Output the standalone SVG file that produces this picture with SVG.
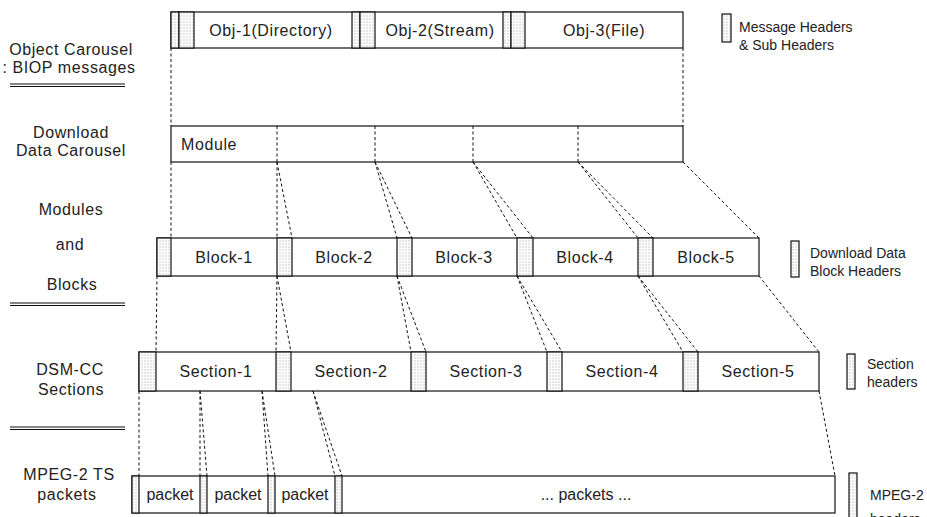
<svg xmlns="http://www.w3.org/2000/svg" width="927" height="517" viewBox="0 0 927 517">
<defs>
<pattern id="dots" width="3" height="3" patternUnits="userSpaceOnUse"><rect width="3" height="3" fill="#fff"/><rect x="0.5" y="0.5" width="1" height="1" fill="#999"/></pattern>
</defs>
<style>
.box{fill:#fff;stroke:#111;stroke-width:1.2}
.hdr{fill:url(#dots);stroke:#111;stroke-width:1.2}
.div{stroke:#111;stroke-width:1;stroke-dasharray:3 2.5}
.c{stroke:#111;stroke-width:1;stroke-dasharray:3 2.5;fill:none}
.dl{stroke:#111;stroke-width:1.1}
text{font-family:"Liberation Sans",Arial,sans-serif;font-size:16px;fill:#222;letter-spacing:0.6px}
.m{text-anchor:middle}
.lg{font-size:14px;letter-spacing:0}
</style>

<g id="labels">
<text class="m" x="71" y="55">Object Carousel</text>
<text class="m" x="69" y="73">: BIOP messages</text>
<line class="dl" x1="10" y1="84" x2="125" y2="84"/><line class="dl" x1="10" y1="86.5" x2="125" y2="86.5"/>
<text class="m" x="71" y="138">Download</text>
<text class="m" x="71" y="156">Data Carousel</text>
<text class="m" x="71" y="215">Modules</text>
<text class="m" x="70" y="250">and</text>
<text class="m" x="72" y="290">Blocks</text>
<line class="dl" x1="10" y1="303" x2="125" y2="303"/><line class="dl" x1="10" y1="305.5" x2="125" y2="305.5"/>
<text class="m" x="70" y="375">DSM-CC</text>
<text class="m" x="71" y="395">Sections</text>
<line class="dl" x1="10" y1="427" x2="125" y2="427"/><line class="dl" x1="10" y1="429.5" x2="125" y2="429.5"/>
<text class="m" x="69" y="480">MPEG-2 TS</text>
<text class="m" x="67" y="500">packets</text>
</g>

<g id="connectors">
<line class="c" x1="171" y1="48" x2="171" y2="126"/>
<line class="c" x1="683" y1="48" x2="683" y2="126"/>
<line class="c" x1="171" y1="162" x2="171" y2="238"/>
<line class="c" x1="277" y1="162" x2="277" y2="238"/>
<line class="c" x1="277" y1="162" x2="292" y2="238"/>
<line class="c" x1="375" y1="162" x2="397" y2="238"/>
<line class="c" x1="375" y1="162" x2="412" y2="238"/>
<line class="c" x1="473" y1="162" x2="517" y2="238"/>
<line class="c" x1="473" y1="162" x2="533" y2="238"/>
<line class="c" x1="578" y1="162" x2="638" y2="238"/>
<line class="c" x1="578" y1="162" x2="653" y2="238"/>
<line class="c" x1="683" y1="162" x2="759" y2="238"/>
<line class="c" x1="157" y1="276" x2="156" y2="352"/>
<line class="c" x1="277" y1="276" x2="276" y2="352"/>
<line class="c" x1="277" y1="276" x2="291" y2="352"/>
<line class="c" x1="397" y1="276" x2="411" y2="352"/>
<line class="c" x1="397" y1="276" x2="426" y2="352"/>
<line class="c" x1="517" y1="276" x2="547" y2="352"/>
<line class="c" x1="517" y1="276" x2="562" y2="352"/>
<line class="c" x1="638" y1="276" x2="683" y2="352"/>
<line class="c" x1="638" y1="276" x2="698" y2="352"/>
<line class="c" x1="759" y1="276" x2="819" y2="352"/>
<line class="c" x1="139" y1="391" x2="139" y2="476"/>
<line class="c" x1="200" y1="391" x2="200" y2="476"/>
<line class="c" x1="200" y1="391" x2="207" y2="476"/>
<line class="c" x1="262" y1="391" x2="268" y2="476"/>
<line class="c" x1="262" y1="391" x2="275" y2="476"/>
<line class="c" x1="313" y1="391" x2="335" y2="476"/>
<line class="c" x1="313" y1="391" x2="342" y2="476"/>
<line class="c" x1="819" y1="391" x2="835" y2="476"/>
</g>

<g id="object-carousel">
<rect class="box" x="171" y="12" width="512" height="36"/>
<rect class="hdr" x="171" y="12" width="8" height="36"/><rect class="hdr" x="179" y="12" width="15" height="36"/>
<rect class="hdr" x="352" y="12" width="8" height="36"/><rect class="hdr" x="360" y="12" width="15" height="36"/>
<rect class="hdr" x="503" y="12" width="8" height="36"/><rect class="hdr" x="511" y="12" width="14" height="36"/>
<text class="m" x="271" y="36">Obj-1(Directory)</text>
<text class="m" x="440" y="36">Obj-2(Stream)</text>
<text class="m" x="604" y="36">Obj-3(File)</text>
</g>

<g id="module">
<rect class="box" x="171" y="126" width="512" height="36"/>
<line class="div" x1="277" y1="126" x2="277" y2="162"/>
<line class="div" x1="375" y1="126" x2="375" y2="162"/>
<line class="div" x1="473" y1="126" x2="473" y2="162"/>
<line class="div" x1="578" y1="126" x2="578" y2="162"/>
<text x="181" y="150">Module</text>
</g>

<g id="blocks">
<rect class="box" x="157" y="238" width="602" height="38"/>
<rect class="hdr" x="157" y="238" width="14" height="38"/>
<rect class="hdr" x="277" y="238" width="15" height="38"/>
<rect class="hdr" x="397" y="238" width="15" height="38"/>
<rect class="hdr" x="517" y="238" width="16" height="38"/>
<rect class="hdr" x="638" y="238" width="15" height="38"/>
<text class="m" x="224" y="263">Block-1</text>
<text class="m" x="344" y="263">Block-2</text>
<text class="m" x="464" y="263">Block-3</text>
<text class="m" x="585" y="263">Block-4</text>
<text class="m" x="706" y="263">Block-5</text>
</g>

<g id="sections">
<rect class="box" x="139" y="352" width="680" height="39"/>
<rect class="hdr" x="139" y="352" width="17" height="39"/>
<rect class="hdr" x="276" y="352" width="15" height="39"/>
<rect class="hdr" x="411" y="352" width="15" height="39"/>
<rect class="hdr" x="547" y="352" width="15" height="39"/>
<rect class="hdr" x="683" y="352" width="15" height="39"/>
<text class="m" x="216" y="377">Section-1</text>
<text class="m" x="351" y="377">Section-2</text>
<text class="m" x="486" y="377">Section-3</text>
<text class="m" x="622" y="377">Section-4</text>
<text class="m" x="758" y="377">Section-5</text>
</g>

<g id="packets">
<rect class="box" x="132" y="476" width="703" height="37"/>
<rect class="hdr" x="132" y="476" width="7" height="37"/>
<rect class="hdr" x="200" y="476" width="7" height="37"/>
<rect class="hdr" x="268" y="476" width="7" height="37"/>
<rect class="hdr" x="335" y="476" width="7" height="37"/>
<text class="m" x="170" y="500" style="letter-spacing:0">packet</text>
<text class="m" x="238" y="500" style="letter-spacing:0">packet</text>
<text class="m" x="305" y="500" style="letter-spacing:0">packet</text>
<text class="m" x="586" y="500" style="letter-spacing:0">... packets ...</text>
</g>

<g id="legend-message">
<rect class="hdr" x="722" y="14" width="9" height="28"/>
<text class="lg" x="739" y="32">Message Headers</text>
<text class="lg" x="739" y="50">&amp; Sub Headers</text>
</g>
<g id="legend-block">
<rect class="hdr" x="791" y="241" width="8" height="36"/>
<text class="lg" x="810" y="258">Download Data</text>
<text class="lg" x="810" y="276">Block Headers</text>
</g>
<g id="legend-section">
<rect class="hdr" x="847" y="354" width="8" height="35"/>
<text class="lg" x="867" y="369">Section</text>
<text class="lg" x="867" y="387">headers</text>
</g>
<g id="legend-packet">
<rect class="hdr" x="849" y="473" width="8" height="50"/>
<text class="lg" x="870" y="500">MPEG-2</text>
<text class="lg" x="870" y="524">headers</text>
</g>
</svg>
